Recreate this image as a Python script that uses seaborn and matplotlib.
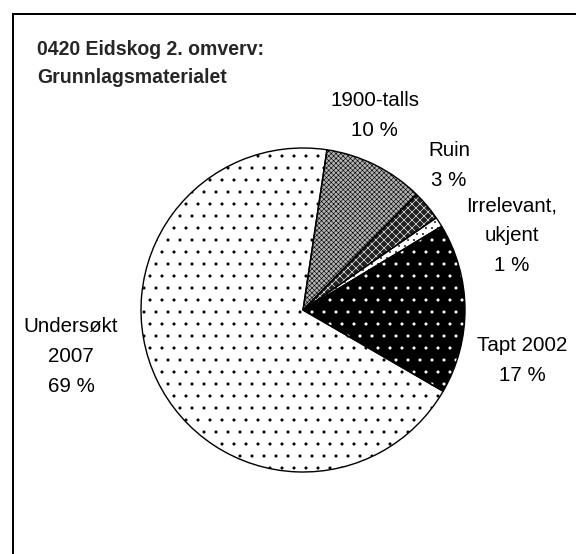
import matplotlib
matplotlib.use("Agg")
import matplotlib.pyplot as plt
import seaborn as sns
from matplotlib.patches import Rectangle

# data
categories = ["1900-talls", "Ruin", "Irrelevant,\nukjent", "Tapt 2002", "Undersøkt\n2007"]
shares = [10, 3, 1, 17, 69]

# hatch / fill per slice (black-and-white pattern look)
faces = ["#b4b4b4", "#202020", "white", "black", "white"]
hatch_cols = ["black", "white", "black", "white", "black"]
hatches = ["xxxxx", "xxx", "..", ".", "."]

# label anchor (first line baseline) in pie-radius units
label_pos = [(0.444, 1.259), (0.901, 0.951), (1.290, 0.611), (1.352, -0.253), (-1.432, -0.136)]

sns.set_theme(style="white")
plt.rcParams["font.family"] = ["Liberation Sans", "DejaVu Sans"]
plt.rcParams["hatch.linewidth"] = 0.6

fig = plt.figure(figsize=(8, 554 / 72), dpi=72)
fig.patch.set_facecolor("white")

# pie centre at (303, 310) px, radius 162 px
R = 162
ax = fig.add_axes([(303 - 1.25 * R) / 576, (554 - 310 - 1.25 * R) / 554,
                   2.5 * R / 576, 2.5 * R / 554])

wedges, _ = ax.pie(shares, startangle=81.5, counterclock=False,
                   wedgeprops=dict(linewidth=0))
for w, fc, hc, h in zip(wedges, faces, hatch_cols, hatches):
    w.set_facecolor(fc)
    w.set_edgecolor(hc)
    w.set_hatch(h)
    w.set_linewidth(0)

# outlines on top
ax.pie(shares, startangle=81.5, counterclock=False,
       wedgeprops=dict(fill=False, edgecolor="black", linewidth=1.4))
ax.set_xlim(-1.25, 1.25)
ax.set_ylim(-1.25, 1.25)

# slice labels
for cat, val, (x, y) in zip(categories, shares, label_pos):
    lines = cat.split("\n") + [f"{val} %"]
    for i, line in enumerate(lines):
        ax.annotate(line, xy=(x, y), xytext=(0, -30 * i), textcoords="offset points",
                    ha="center", va="baseline", fontsize=20.5, color="black",
                    annotation_clip=False)

# title
fig.text(37 / 576, 1 - 55 / 554, "0420 Eidskog 2. omverv:", fontsize=19.5,
         fontweight="bold", ha="left", va="baseline")
fig.text(37 / 576, 1 - 83 / 554, "Grunnlagsmaterialet", fontsize=19.5,
         fontweight="bold", ha="left", va="baseline")

# chart-area border (runs off right and bottom edges)
fig.patches.append(Rectangle((12.5 / 576, -0.1), 1.2, 1.1 - 14.5 / 554,
                             transform=fig.transFigure, fill=False,
                             edgecolor="black", linewidth=2))

fig.savefig("out.png", dpi=72)
